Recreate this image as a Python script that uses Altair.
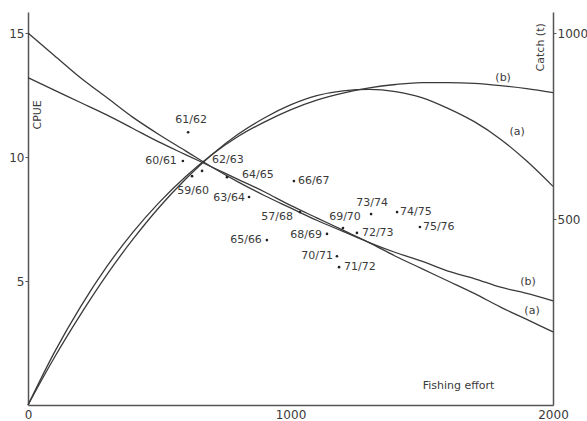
import altair as alt
import pandas as pd

# ---------------- data ----------------
effort_grid = [0, 100, 200, 300, 400, 500, 600, 700, 800, 900, 1000,
               1100, 1200, 1300, 1400, 1500, 1600, 1700, 1800, 1900, 2000]
cpue_a = [13.2, 12.7, 12.2, 11.7, 11.15, 10.6, 10.1, 9.6, 9.1, 8.6, 8.05,
          7.55, 7.05, 6.55, 6.0, 5.5, 5.0, 4.5, 3.95, 3.45, 2.95]
cpue_b = [15.0, 14.1, 13.2, 12.4, 11.6, 10.9, 10.25, 9.6, 9.0, 8.45, 7.95,
          7.45, 7.0, 6.55, 6.15, 5.8, 5.4, 5.1, 4.75, 4.5, 4.2]
catch_a = [0, 127, 243, 350, 446, 532, 607, 673, 728, 772, 807,
           832, 845, 849, 843, 827, 798, 762, 715, 656, 588]
catch_b = [0, 141, 264, 372, 465, 545, 614, 673, 722, 761, 794,
           820, 839, 853, 862, 867, 867, 865, 859, 851, 840]

seasons = ["59/60", "60/61", "61/62", "62/63", "63/64", "64/65", "65/66",
           "66/67", "57/68", "68/69", "69/70", "70/71", "71/72", "72/73",
           "73/74", "74/75", "75/76"]
season_effort = [625, 590, 610, 663, 842, 758, 910, 1013, 1036, 1139,
                 1200, 1177, 1185, 1253, 1307, 1406, 1493]
season_cpue = [9.23, 9.84, 11.0, 9.44, 8.39, 9.19, 6.65, 9.03, 7.78, 6.9,
               7.14, 6.0, 5.56, 6.94, 7.7, 7.78, 7.18]

# ---------------- label placement (layout, not data) ----------------
label_place = {
    "59/60": ("center", 1, 15), "60/61": ("right", -6, 0),
    "61/62": ("center", 3, -12), "62/63": ("left", 10, -11),
    "63/64": ("right", -4, 1), "64/65": ("left", 15, -2),
    "65/66": ("right", -5, 0), "66/67": ("left", 4, 0),
    "57/68": ("right", -7, 5), "68/69": ("right", -5, 1),
    "69/70": ("center", 2, -11), "70/71": ("right", -4, 0),
    "71/72": ("left", 5, 0), "72/73": ("left", 5, 0),
    "73/74": ("center", 1, -11), "74/75": ("left", 3, 0),
    "75/76": ("left", 3, 0),
}

INK = "#3a3a3a"
FONT = "DejaVu Sans"

# ---------------- scales / axes ----------------
x_scale = alt.Scale(domain=[0, 2000], nice=False, zero=False)
x_axis = alt.Axis(values=[0, 1000, 2000], format="d", title=None, grid=False, ticks=False,
                  labelFontSize=12, labelPadding=4, labelColor=INK, labelFont=FONT,
                  domainColor="#555555", domainWidth=1.5, labelFlush=False)
X = lambda: alt.X("effort:Q", scale=x_scale, axis=x_axis)

cpue_scale = alt.Scale(domain=[0, 15.85], nice=False, zero=False)
cpue_axis = alt.Axis(values=[5, 10, 15], format="d", orient="left", title=None, grid=False,
                     tickSize=3, tickColor="#555555", labelFontSize=12, labelPadding=1,
                     labelColor=INK, labelFont=FONT, domainColor="#555555",
                     domainWidth=1.5)
YC = lambda: alt.Y("cpue:Q", scale=cpue_scale, axis=cpue_axis)

catch_scale = alt.Scale(domain=[0, 1057], nice=False, zero=False)
catch_axis = alt.Axis(values=[500, 1000], format="d", orient="right", title=None, grid=False,
                      tickSize=3, tickColor="#555555", labelFontSize=12, labelPadding=1,
                      labelColor=INK, labelFont=FONT, domainColor="#555555",
                      domainWidth=1.5)
YK = lambda: alt.Y("catch:Q", scale=catch_scale, axis=catch_axis)

# ---------------- tables ----------------
cpue_df = pd.DataFrame({
    "effort": effort_grid * 2,
    "cpue": cpue_a + cpue_b,
    "model": ["a"] * len(effort_grid) + ["b"] * len(effort_grid),
})
catch_df = pd.DataFrame({
    "effort": effort_grid * 2,
    "catch": catch_a + catch_b,
    "model": ["a"] * len(effort_grid) + ["b"] * len(effort_grid),
})
pts_df = pd.DataFrame({"season": seasons, "effort": season_effort, "cpue": season_cpue})

# ---------------- CPUE layers ----------------
cpue_lines = alt.Chart(cpue_df).mark_line(color=INK, strokeWidth=1.3, interpolate="monotone").encode(
    x=X(), y=YC(), detail="model:N")
points = alt.Chart(pts_df).mark_point(filled=True, color="#222222", size=7, opacity=1).encode(
    x=X(), y=YC())

label_layers = []
for s, e, c in zip(seasons, season_effort, season_cpue):
    al, dx, dy = label_place[s]
    label_layers.append(
        alt.Chart(pd.DataFrame({"effort": [e], "cpue": [c], "t": [s]})).mark_text(
            align=al, baseline="middle", dx=dx, dy=dy, fontSize=11, font=FONT, color=INK
        ).encode(x=X(), y=YC(), text="t:N"))

cpue_ann = pd.DataFrame({
    "effort": [1905, 1920, 38, 1640],
    "cpue": [4.96, 3.79, 11.7, 0.75],
    "t": ["(b)", "(a)", "CPUE", "Fishing effort"],
    "angle": [0, 0, 270, 0],
})
cpue_ann_layers = []
for _, r in cpue_ann.iterrows():
    cpue_ann_layers.append(
        alt.Chart(pd.DataFrame([r])).mark_text(
            align="center", baseline="middle", fontSize=11, font=FONT, color=INK,
            angle=int(r["angle"])
        ).encode(x=X(), y=YC(), text="t:N"))

cpue_layer = alt.layer(cpue_lines, points, *label_layers, *cpue_ann_layers)

# ---------------- catch layers ----------------
catch_lines = alt.Chart(catch_df).mark_line(color=INK, strokeWidth=1.3, interpolate="monotone").encode(
    x=X(), y=YK(), detail="model:N")
catch_ann = pd.DataFrame({
    "effort": [1810, 1863, 1954],
    "catch": [880, 735, 962],
    "t": ["(b)", "(a)", "Catch (t)"],
    "angle": [0, 0, 270],
})
catch_ann_layers = []
for _, r in catch_ann.iterrows():
    catch_ann_layers.append(
        alt.Chart(pd.DataFrame([r])).mark_text(
            align="center", baseline="middle", fontSize=11, font=FONT, color=INK,
            angle=int(r["angle"])
        ).encode(x=X(), y=YK(), text="t:N"))

catch_layer = alt.layer(catch_lines, *catch_ann_layers)

chart = alt.layer(cpue_layer, catch_layer).resolve_scale(y="independent").properties(
    width=525, height=393,
    autosize=alt.AutoSizeParams(type="none"),
    padding={"left": 28, "top": 12, "right": 34, "bottom": 16},
    background="white",
).configure_view(stroke=None)

chart.save("out.html", embed_options={"renderer": "svg", "actions": False})
